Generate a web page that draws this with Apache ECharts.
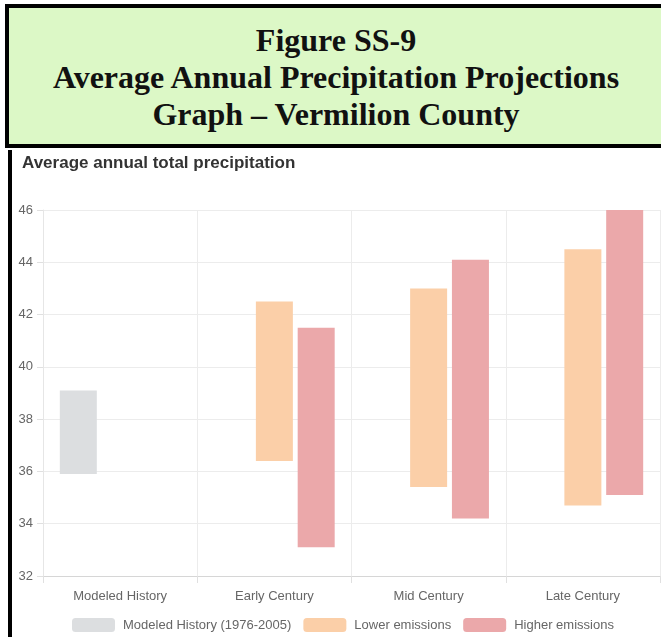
<!DOCTYPE html>
<html>
<head>
<meta charset="utf-8">
<script src="https://cdn.jsdelivr.net/npm/echarts@6/dist/echarts.min.js"></script>
<style>
  body { margin: 0; background: #fff; width: 661px; height: 637px; overflow: hidden; position: relative; }
  .fig-title {
    position: absolute; left: 5px; top: 4px; width: 654px; height: 122px;
    border: 4px solid #000; background: #dcf8c6;
    font-family: "Liberation Serif", "Times New Roman", serif; font-weight: bold;
    font-size: 32px; line-height: 37px; text-align: center; color: #111;
    padding-top: 14px; box-sizing: content-box;
  }
  .fig-title div { height: 37px; }
  #chart {
    position: absolute; left: 8px; top: 150px; width: 649px; height: 487px;
    border-left: 4px solid #000;
  }
</style>
</head>
<body>
<div class="fig-title">
  <div>Figure SS-9</div>
  <div>Average Annual Precipitation Projections</div>
  <div>Graph – Vermilion County</div>
</div>
<div id="chart"></div>
<script>
const categories = ['Modeled History', 'Early Century', 'Mid Century', 'Late Century']
const yTicks = [32, 34, 36, 38, 40, 42, 44, 46]

// low / high of each range bar, '-' where there is no bar
const historyLow = [35.9, '-', '-', '-']
const historyHigh = [39.1, '-', '-', '-']
const lowerLow = ['-', 36.4, 35.4, 34.7]
const lowerHigh = ['-', 42.5, 43.0, 44.5]
const higherLow = ['-', 33.1, 34.2, 35.1]
const higherHigh = ['-', 41.5, 44.1, 46.0]

const span = (lo, hi) => lo.map((v, i) => (v === '-' ? '-' : +(hi[i] - v).toFixed(2)))

const chart = echarts.init(document.getElementById('chart'))

const baseSeries = (stack, data) => ({
  type: 'bar', stack, data, barWidth: 37, barGap: '13%',
  itemStyle: { color: 'transparent' }, silent: true
})
const rangeSeries = (name, stack, data, color) => ({
  name, type: 'bar', stack, data, barWidth: 37, barGap: '13%',
  itemStyle: { color }
})

chart.setOption({
  animation: false,
  textStyle: { fontFamily: 'Liberation Sans, Arial, sans-serif' },
  title: {
    text: 'Average annual total precipitation',
    left: 5, top: 0,
    textStyle: { fontSize: 17, fontWeight: 'bold', color: '#333' }
  },
  legend: {
    left: 55, top: 463,
    itemWidth: 43, itemHeight: 14, itemGap: 12,
    textStyle: { color: '#666', fontSize: 13, padding: [0, 0, 0, 3] },
    data: ['Modeled History (1976-2005)', 'Lower emissions', 'Higher emissions']
  },
  grid: { left: 31, right: 1, top: 60, bottom: 61 },
  xAxis: {
    type: 'category',
    data: categories,
    axisLine: { lineStyle: { color: '#d6d6d6' } },
    axisTick: { show: true, length: 7, lineStyle: { color: '#e0e0e0' } },
    axisLabel: { color: '#666', fontSize: 13, margin: 14 },
    splitLine: { show: true, lineStyle: { color: '#ececec' } }
  },
  yAxis: {
    type: 'value',
    min: yTicks[0], max: yTicks[yTicks.length - 1], interval: 2,
    axisLine: { show: true, lineStyle: { color: '#e6e6e6' } },
    axisTick: { show: true, length: 6, lineStyle: { color: '#e0e0e0' } },
    axisLabel: { color: '#666', fontSize: 13, margin: 10 },
    splitLine: { lineStyle: { color: '#ececec' } }
  },
  series: [
    baseSeries('hist', historyLow),
    rangeSeries('Modeled History (1976-2005)', 'hist', span(historyLow, historyHigh), '#dcdee0'),
    baseSeries('low', lowerLow),
    rangeSeries('Lower emissions', 'low', span(lowerLow, lowerHigh), '#fbcfa8'),
    baseSeries('high', higherLow),
    rangeSeries('Higher emissions', 'high', span(higherLow, higherHigh), '#eba8aa')
  ]
})
</script>
</body>
</html>
